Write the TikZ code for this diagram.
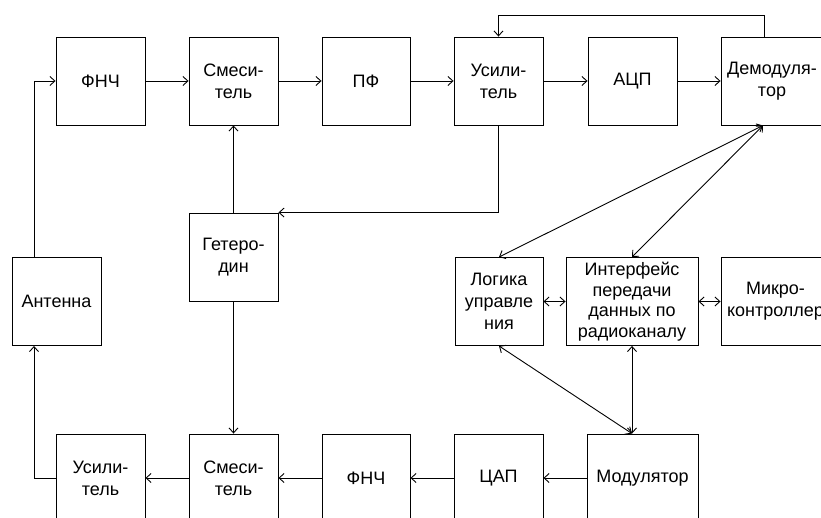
\documentclass[tikz,border=0pt]{standalone}
\usepackage{fontspec}
\setmainfont{Liberation Sans}
\usetikzlibrary{arrows.meta,calc}
\begin{document}
\begin{tikzpicture}[x=1pt,y=-1pt,
  blk/.style={draw, line width=0.9pt, minimum height=88pt, minimum width=89pt, align=center, inner sep=1pt, font=\fontsize{18}{22}\selectfont},
  ln/.style={line width=0.9pt},
  >={Straight Barb[length=5pt,width=9pt]}]
\useasboundingbox (0,0) rectangle (821,518);
\clip (0,0) rectangle (821,518);
% top row
\node[blk] (fnch1) at (100.5,81) {ФНЧ};
\node[blk] (mix1) at (233.5,81) {Смеси-\\тель};
\node[blk, minimum width=88pt] (pf) at (366,81) {ПФ};
\node[blk] (amp1) at (498.5,81) {Усили-\\тель};
\node[blk] (adc) at (632.5,81) {АЦП};
\node[blk, minimum width=102pt] (demod) at (772,81) {Демодуля-\\тор};
% middle
\node[blk] (het) at (233.5,257) {Гетеро-\\дин};
\node[blk] (ant) at (56.5,301.5) {Антенна};
\node[blk, minimum width=88pt] (logic) at (499,301.5) {Логика\\управле\\ния};
\node[blk, minimum width=132pt, font=\fontsize{18}{20.5}\selectfont] (iface) at (632,301.5) {Интерфейс\\передачи\\данных по\\радиоканалу};
\node[blk, minimum width=109pt] (micro) at (775.5,301.5) {Микро-\\контроллер};
% bottom row
\node[blk] (amp2) at (100.5,478) {Усили-\\тель};
\node[blk] (mix2) at (233.5,478) {Смеси-\\тель};
\node[blk, minimum width=88pt] (fnch2) at (366,478) {ФНЧ};
\node[blk] (dac) at (498.5,478) {ЦАП};
\node[blk, minimum width=111pt] (mod) at (642.5,478) {Модулятор};
% helper coordinates
\coordinate (ax) at (34,0);
\coordinate (fb) at (764,15);
\coordinate (dm) at ($(demod.south)+(-9,0)$);
% connectors
\draw[ln,->] (ant.north -| ax) |- (fnch1.west);
\draw[ln,->] (fnch1) -- (mix1);
\draw[ln,->] (mix1) -- (pf);
\draw[ln,->] (pf) -- (amp1);
\draw[ln,->] (amp1) -- (adc);
\draw[ln,->] (adc) -- (demod);
\draw[ln,->] (demod.north -| fb) -- (fb) -| (amp1.north);
\draw[ln,->] (amp1.south) |- (het.north east);
\draw[ln,->] (het) -- (mix1);
\draw[ln,->] (het) -- (mix2);
\draw[ln,<->] (dm) -- (logic.north);
\draw[ln,<->] (dm) -- (iface.north);
\draw[ln,<->] (logic) -- (iface);
\draw[ln,<->] (iface) -- (micro);
\draw[ln,<->] (logic.south) -- (mod.north -| iface.south);
\draw[ln,<->] (iface.south) -- (mod.north -| iface.south);
\draw[ln,->] (mod) -- (dac);
\draw[ln,->] (dac) -- (fnch2);
\draw[ln,->] (fnch2) -- (mix2);
\draw[ln,->] (mix2) -- (amp2);
\draw[ln,->] (amp2.west) -| (ant.south -| ax);
\end{tikzpicture}
\end{document}
